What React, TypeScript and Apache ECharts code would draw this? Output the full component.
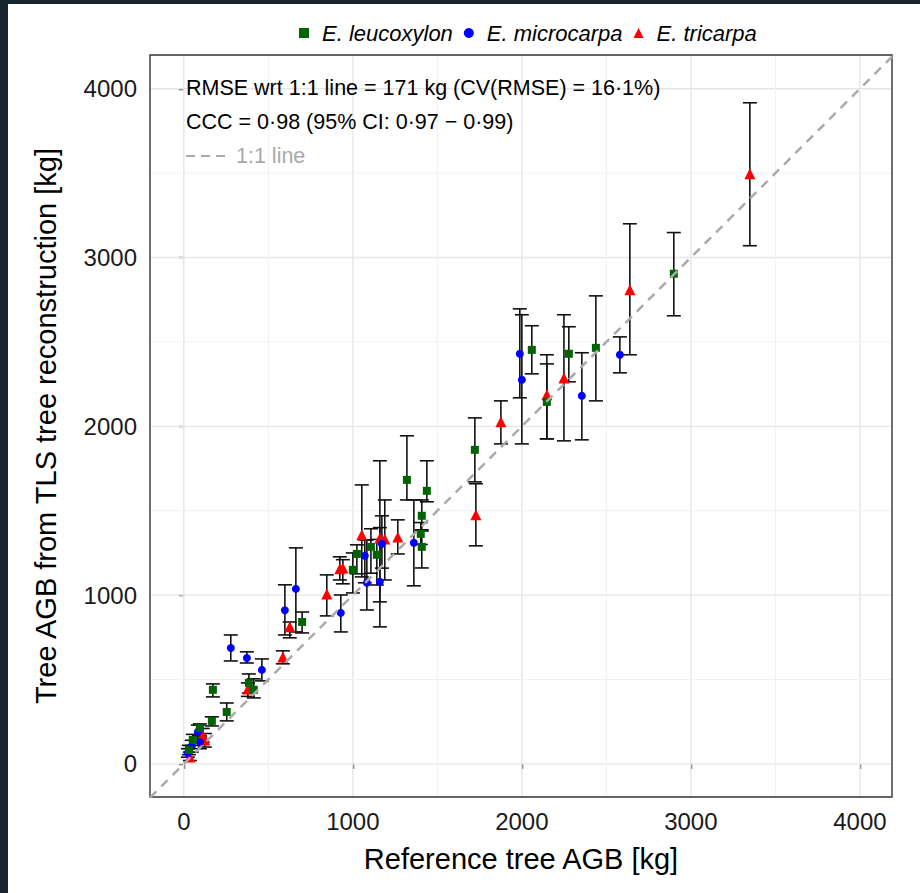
import React, { useEffect, useRef } from "react";
import * as echarts from "echarts";

// ---- Data ----
const leucName = "E. leucoxylon";
const leucX = [2899, 2438, 2278, 2148, 2059, 1722, 1438, 1408, 1402, 1408, 1320, 1107, 1142, 1024, 1000, 700, 414, 385, 254, 172, 166, 95, 53, 30];
const leucY = [2904, 2465, 2430, 2145, 2453, 1861, 1618, 1470, 1363, 1286, 1683, 1286, 1239, 1244, 1150, 841, 439, 480, 308, 439, 255, 213, 142, 83];
const leucLo = [2655, 2151, 2264, 1926, 2311, 1671, 1553, 1387, 1300, 1161, 1564, 1130, 1060, 1126, 1013, 776, 391, 420, 255, 397, 225, 166, 110, 55];
const leucHi = [3148, 2773, 2590, 2424, 2596, 2050, 1796, 1564, 1430, 1380, 1944, 1393, 1330, 1298, 1250, 900, 504, 533, 361, 474, 279, 237, 175, 110];

const microName = "E. microcarpa";
const microX = [2580, 2355, 1988, 2000, 1361, 1172, 1160, 1083, 1071, 929, 663, 598, 462, 373, 278, 83, 95, 47, 24];
const microY = [2424, 2181, 2430, 2276, 1310, 1304, 1079, 1073, 1233, 895, 1037, 910, 557, 628, 687, 190, 130, 107, 65];
const microLo = [2317, 1920, 2169, 1896, 1055, 1160, 812, 912, 1073, 782, 782, 764, 492, 598, 610, 150, 90, 70, 40];
const microHi = [2530, 2436, 2696, 2661, 1564, 1470, 1400, 1327, 1327, 1001, 1280, 1061, 622, 664, 764, 230, 165, 140, 90];

const triName = "E. tricarpa";
const triX = [3349, 2639, 2249, 2148, 1876, 1728, 1266, 1189, 1160, 1053, 941, 923, 846, 627, 586, 379, 112, 124, 36];
const triY = [3496, 2809, 2287, 2187, 2027, 1476, 1345, 1333, 1339, 1357, 1160, 1156, 1007, 812, 634, 444, 172, 142, 41];
const triLo = [3070, 2424, 1914, 1926, 1896, 1292, 1244, 1090, 960, 1108, 1067, 1090, 877, 747, 593, 400, 130, 100, 20];
const triHi = [3917, 3200, 2661, 2370, 2151, 1660, 1446, 1564, 1796, 1653, 1210, 1227, 1120, 841, 670, 480, 210, 180, 70];

const tickValues = [0, 1000, 2000, 3000, 4000];
const minorValues = [500, 1500, 2500, 3500];
const xRange = [-200, 4190];
const yRange = [-196, 4200];
const oneToOne = [[-200, -200], [4200, 4200]];

const annotation1 = "RMSE wrt 1:1 line = 171 kg (CV(RMSE) = 16\u00b71%)";
const annotation2 = "CCC = 0\u00b798 (95% CI: 0\u00b797 \u2212 0\u00b799)";
const annotation3 = "1:1 line";

const FONT = '"Liberation Sans", Arial, Helvetica, sans-serif';

function zip3(x: number[], a: number[], b: number[]) {
  return x.map((v, i) => [v, a[i], b[i]]);
}
function zip2(x: number[], y: number[]) {
  return x.map((v, i) => [v, y[i]]);
}

const errorRender = (params: any, api: any) => {
  const x = api.value(0);
  const lo = api.value(1);
  const hi = api.value(2);
  const pLo = api.coord([x, lo]);
  const pHi = api.coord([x, hi]);
  const w = 7;
  const style = { stroke: "#111111", lineWidth: 1.6 };
  return {
    type: "group",
    children: [
      { type: "line", shape: { x1: pLo[0], y1: pLo[1], x2: pHi[0], y2: pHi[1] }, style },
      { type: "line", shape: { x1: pLo[0] - w, y1: pLo[1], x2: pLo[0] + w, y2: pLo[1] }, style },
      { type: "line", shape: { x1: pHi[0] - w, y1: pHi[1], x2: pHi[0] + w, y2: pHi[1] }, style },
    ],
  };
};

const gridRender = (params: any, api: any) => {
  const v = api.value(0);
  const major = api.value(1) === 1;
  const cs = params.coordSys;
  const px = api.coord([v, 0])[0];
  const py = api.coord([0, v])[1];
  const style = { stroke: major ? "#e6e6e6" : "#f1f1f1", lineWidth: major ? 1.4 : 1 };
  return {
    type: "group",
    children: [
      { type: "line", shape: { x1: px, y1: cs.y + 1, x2: px, y2: cs.y + cs.height - 1 }, style },
      { type: "line", shape: { x1: cs.x + 1, y1: py, x2: cs.x + cs.width - 1, y2: py }, style },
    ],
  };
};

const plainLabel = (v: number) => String(Math.round(v));

export default function App() {
  const ref = useRef<HTMLDivElement>(null);
  useEffect(() => {
    if (!ref.current) return;
    const chart = echarts.init(ref.current, null, { renderer: "svg" });
    const gridData = [
      ...tickValues.map((v) => [v, 1]),
      ...minorValues.map((v) => [v, 0]),
    ];
    chart.setOption({
      animation: false,
      backgroundColor: "transparent",
      textStyle: { fontFamily: FONT },
      grid: {
        left: 150,
        top: 55,
        right: 28,
        bottom: 96,
        show: true,
        backgroundColor: "#ffffff",
        borderColor: "#333333",
        borderWidth: 1.4,
      },
      legend: {
        left: 294,
        top: 17,
        itemWidth: 10,
        itemHeight: 10,
        itemGap: 11,
        data: [
          { name: leucName, icon: "rect" },
          { name: microName, icon: "circle" },
          { name: triName, icon: "triangle" },
        ],
        textStyle: {
          fontFamily: FONT,
          fontSize: 22,
          fontStyle: "italic",
          color: "#000000",
          padding: [0, 0, 0, 8],
        },
      },
      xAxis: {
        type: "value",
        min: xRange[0],
        max: xRange[1],
        splitLine: { show: false },
        axisLine: { show: false },
        axisTick: {
          show: true,
          length: 5,
          customValues: tickValues,
          lineStyle: { color: "#333333", width: 1.4 },
        },
        axisLabel: {
          customValues: tickValues,
          formatter: plainLabel,
          fontSize: 24,
          color: "#1a1a1a",
          margin: 12,
          fontFamily: FONT,
        },
        name: "Reference tree AGB [kg]",
        nameLocation: "middle",
        nameGap: 47,
        nameTextStyle: { fontSize: 29, color: "#000000", fontFamily: FONT },
      },
      yAxis: {
        type: "value",
        min: yRange[0],
        max: yRange[1],
        splitLine: { show: false },
        axisLine: { show: false },
        axisTick: {
          show: true,
          length: 5,
          customValues: tickValues,
          lineStyle: { color: "#333333", width: 1.4 },
        },
        axisLabel: {
          customValues: tickValues,
          formatter: plainLabel,
          fontSize: 24,
          color: "#1a1a1a",
          margin: 13,
          fontFamily: FONT,
        },
        name: "Tree AGB from TLS tree reconstruction [kg]",
        nameLocation: "middle",
        nameGap: 90,
        nameTextStyle: { fontSize: 29, color: "#000000", fontFamily: FONT },
      },
      graphic: [
        {
          type: "text",
          x: 186,
          y: 88,
          z: 10,
          style: { text: annotation1, font: `21.5px ${FONT}`, fill: "#000000", verticalAlign: "middle", align: "left" },
        },
        {
          type: "text",
          x: 186,
          y: 122,
          z: 10,
          style: { text: annotation2, font: `21.5px ${FONT}`, fill: "#000000", verticalAlign: "middle", align: "left" },
        },
        {
          type: "line",
          z: 10,
          shape: { x1: 186, y1: 156, x2: 229, y2: 156 },
          style: { stroke: "#aaaaaa", lineWidth: 2.2, lineDash: [9, 6] },
        },
        {
          type: "text",
          x: 236,
          y: 156,
          z: 10,
          style: { text: annotation3, font: `21.5px ${FONT}`, fill: "#aaaaaa", verticalAlign: "middle", align: "left" },
        },
      ],
      series: [
        {
          type: "custom",
          name: "grid",
          silent: true,
          z: 1,
          renderItem: gridRender,
          data: gridData,
          encode: { x: 0 },
        },
        { type: "custom", name: "err-leuc", silent: true, z: 3, renderItem: errorRender, data: zip3(leucX, leucLo, leucHi), encode: { x: 0, y: [1, 2] } },
        { type: "custom", name: "err-micro", silent: true, z: 3, renderItem: errorRender, data: zip3(microX, microLo, microHi), encode: { x: 0, y: [1, 2] } },
        { type: "custom", name: "err-tri", silent: true, z: 3, renderItem: errorRender, data: zip3(triX, triLo, triHi), encode: { x: 0, y: [1, 2] } },
        {
          type: "scatter",
          name: triName,
          symbol: "triangle",
          symbolSize: 11,
          z: 4,
          itemStyle: { color: "#ff0000", opacity: 1 },
          data: zip2(triX, triY),
        },
        {
          type: "scatter",
          name: microName,
          symbol: "circle",
          symbolSize: 8,
          z: 4,
          itemStyle: { color: "#0000ff", opacity: 1 },
          data: zip2(microX, microY),
        },
        {
          type: "scatter",
          name: leucName,
          symbol: "rect",
          symbolSize: 8,
          z: 4,
          itemStyle: { color: "#006400", opacity: 1 },
          data: zip2(leucX, leucY),
        },
        {
          type: "line",
          name: "1:1",
          silent: true,
          z: 5,
          showSymbol: false,
          clip: true,
          data: oneToOne,
          lineStyle: { color: "#aaaaaa", width: 2.5, type: [9, 7] },
        },
      ],
    });
    return () => chart.dispose();
  }, []);

  return (
    <div style={{ position: "fixed", left: 0, top: 0, width: 920, height: 893, background: "#16242e" }}>
      <div style={{ position: "absolute", left: 8, top: 4, right: 0, bottom: 0, background: "#ffffff" }} />
      <div ref={ref} style={{ position: "absolute", left: 0, top: 0, width: 920, height: 893 }} />
    </div>
  );
}
